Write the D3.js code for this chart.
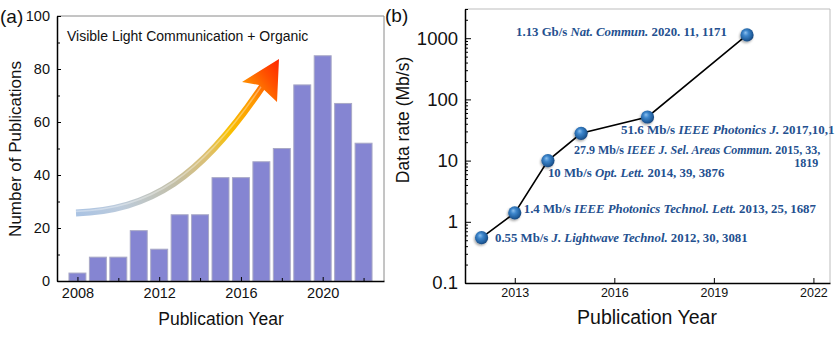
<!DOCTYPE html>
<html>
<head>
<meta charset="utf-8">
<script src="https://cdn.jsdelivr.net/npm/d3@7"></script>
<style>
  html, body { margin: 0; padding: 0; background: #fff; }
  svg { display: block; font-family: Arial, "Liberation Sans", sans-serif; }
</style>
</head>
<body>
<svg id="chart" width="840" height="340"></svg>
<script>
// ---- Panel (a): yearly publication counts ----
const pubYears  = [2008, 2009, 2010, 2011, 2012, 2013, 2014, 2015, 2016, 2017, 2018, 2019, 2020, 2021, 2022];
const pubCounts = [3, 9, 9, 19, 12, 25, 25, 39, 39, 45, 50, 74, 85, 67, 52];
const pubYTicks = [0, 20, 40, 60, 80, 100];
const pubXTicks = [2008, 2012, 2016, 2020];

// ---- Panel (b): reported data rates (Mb/s) ----
const rateYears  = [2012, 2013, 2014, 2015, 2017, 2020];
const rateValues = [0.55, 1.4, 10, 27.9, 51.6, 1130];
const rateTexts  = ["0.55 Mb/s", "1.4 Mb/s", "10 Mb/s", "27.9 Mb/s", "51.6 Mb/s", "1.13 Gb/s"];
const rateJournals = ["J. Lightwave Technol.", "IEEE Photonics Technol. Lett.", "Opt. Lett.",
                      "IEEE J. Sel. Areas Commun.", "IEEE Photonics J.", "Nat. Commun."];
const rateRefs = ["2012, 30, 3081", "2013, 25, 1687", "2014, 39, 3876", "2015, 33,", "2017,10,1", "2020. 11, 1171"];
const rateRefExtra = ["", "", "", "1819", "", ""];
const rateYTicks = [0.1, 1, 10, 100, 1000];
const rateXTicks = [2013, 2016, 2019, 2022];

const svg = d3.select("#chart");
const defs = svg.append("defs");

// =================== Panel (a) ===================
const A = { left: 57, right: 384, top: 16, bottom: 281 };
const xA = d3.scaleLinear().domain([2007, 2023]).range([A.left, A.right]);
const yA = d3.scaleLinear().domain([0, 100]).range([A.bottom, A.top]);
const gA = svg.append("g");

// frame (top / right)
gA.append("path")
  .attr("d", `M${A.left},${A.top}H${A.right}V${A.bottom}`)
  .attr("fill", "none").attr("stroke", "#8a8a8a").attr("stroke-width", 1);

// bars
const barW = xA(2007.83) - xA(2007);
gA.selectAll("rect.bar").data(pubYears).join("rect")
  .attr("class", "bar")
  .attr("x", (d) => xA(d) - barW / 2)
  .attr("width", barW)
  .attr("y", (d, i) => yA(pubCounts[i]))
  .attr("height", (d, i) => yA(0) - yA(pubCounts[i]))
  .attr("fill", "#8585d2")
  .attr("stroke", "#a9a9c6")
  .attr("stroke-width", 1);

// growth arrow
const arrowGrad = defs.append("linearGradient")
  .attr("id", "arrowGrad").attr("gradientUnits", "userSpaceOnUse")
  .attr("x1", 76).attr("y1", 213).attr("x2", 279).attr("y2", 59);
[[0, "#aac3e3"], [0.15, "#bccbdc"], [0.38, "#c3bfa7"], [0.55, "#ddc070"],
 [0.67, "#f8c000"], [0.82, "#ff9800"], [0.92, "#ff5200"], [1, "#ff2400"]]
  .forEach(([o, c]) => arrowGrad.append("stop").attr("offset", o).attr("stop-color", c));

const shaft = "M76,213 C150,210 200,180 264,84";
gA.append("path").attr("d", shaft)
  .attr("fill", "none").attr("stroke", "url(#arrowGrad)").attr("stroke-width", 7);
gA.append("path").attr("d", shaft).attr("transform", "translate(0,-1.6)")
  .attr("fill", "none").attr("stroke", "#ffffff").attr("stroke-opacity", 0.35).attr("stroke-width", 1.6);
gA.append("path")
  .attr("d", "M279,59 L242,82 L259,85 L277,102 Z")
  .attr("fill", "url(#arrowGrad)");

// axes
const axA_x = gA.append("g").attr("transform", `translate(0,${A.bottom})`)
  .call(d3.axisBottom(xA).tickValues(pubXTicks).tickFormat(d3.format("d")).tickSizeInner(-4).tickSizeOuter(0).tickPadding(7));
gA.append("g").attr("transform", `translate(0,${A.bottom})`)
  .call(d3.axisBottom(xA).tickValues([2010, 2014, 2018, 2022]).tickFormat("").tickSizeInner(-3).tickSizeOuter(0))
  .call((g) => g.select(".domain").remove());
const axA_y = gA.append("g").attr("transform", `translate(${A.left},0)`)
  .call(d3.axisLeft(yA).tickValues(pubYTicks).tickSizeInner(-4).tickSizeOuter(0).tickPadding(7));
gA.append("g").attr("transform", `translate(${A.left},0)`)
  .call(d3.axisLeft(yA).tickValues([10, 30, 50, 70, 90]).tickFormat("").tickSizeInner(-3).tickSizeOuter(0))
  .call((g) => g.select(".domain").remove());
[axA_x, axA_y].forEach((g) => {
  g.select(".domain").attr("stroke", "#000").attr("stroke-width", 1.5);
  g.selectAll("text").attr("font-size", 14.5).attr("fill", "#111").attr("font-family", "Arial, 'Liberation Sans', sans-serif");
});
gA.selectAll(".tick line").attr("stroke", "#000");

gA.append("text").attr("x", 67).attr("y", 41).attr("font-size", 14).attr("fill", "#111")
  .text("Visible Light Communication + Organic");
gA.append("text").attr("x", 221).attr("y", 325).attr("text-anchor", "middle")
  .attr("font-size", 17.5).attr("fill", "#111").text("Publication Year");
gA.append("text").attr("transform", "translate(21,149) rotate(-90)").attr("text-anchor", "middle")
  .attr("font-size", 17).attr("fill", "#111").text("Number of Publications");
gA.append("text").attr("x", 0).attr("y", 23).attr("font-size", 19).attr("fill", "#111").text("(a)");

// =================== Panel (b) ===================
const B = { left: 465, right: 830, top: 9, bottom: 283 };
const xB = d3.scaleLinear().domain([2011.5, 2022.5]).range([B.left, B.right]);
const yB = d3.scaleLog().domain([0.1, 3000]).range([B.bottom, B.top]);
const gB = svg.append("g");

gB.append("path")
  .attr("d", `M${B.left},${B.top}H${B.right}V${B.bottom}`)
  .attr("fill", "none").attr("stroke", "#bdbdbd").attr("stroke-width", 1);

const minorLog = [];
[0.1, 1, 10, 100, 1000].forEach((dec) => {
  for (let k = 2; k <= 9; k++) { const v = dec * k; if (v <= 3000) minorLog.push(v); }
});

const axB_x = gB.append("g").attr("transform", `translate(0,${B.bottom})`)
  .call(d3.axisBottom(xB).tickValues(rateXTicks).tickFormat(d3.format("d")).tickSizeInner(-5).tickSizeOuter(0).tickPadding(5));
const axB_y = gB.append("g").attr("transform", `translate(${B.left},0)`)
  .call(d3.axisLeft(yB).tickValues(rateYTicks).tickFormat((d) => d < 1 ? "0.1" : d3.format("d")(d)).tickSizeInner(-6).tickSizeOuter(0).tickPadding(7));
gB.append("g").attr("transform", `translate(${B.left},0)`)
  .call(d3.axisLeft(yB).tickValues(minorLog).tickFormat("").tickSizeInner(-3).tickSizeOuter(0))
  .call((g) => g.select(".domain").remove());
axB_x.selectAll("text").attr("font-size", 12.5);
axB_y.selectAll("text").attr("font-size", 18.5);
[axB_x, axB_y].forEach((g) => {
  g.select(".domain").attr("stroke", "#000").attr("stroke-width", 1.5);
  g.selectAll("text").attr("fill", "#111").attr("font-family", "Arial, 'Liberation Sans', sans-serif");
});
gB.selectAll(".tick line").attr("stroke", "#000");

// connecting line
const line = d3.line().x((d, i) => xB(rateYears[i])).y((d) => yB(d));
gB.append("path").datum(rateValues).attr("d", line)
  .attr("fill", "none").attr("stroke", "#000").attr("stroke-width", 1.6);

// shaded sphere markers
const ballGrad = defs.append("radialGradient").attr("id", "ball")
  .attr("cx", "45%").attr("cy", "45%").attr("r", "60%").attr("fx", "38%").attr("fy", "32%");
[[0, "#8cc0ee"], [0.35, "#3d86cc"], [0.75, "#22609f"], [1, "#173f72"]]
  .forEach(([o, c]) => ballGrad.append("stop").attr("offset", o).attr("stop-color", c));
const shadow = defs.append("filter").attr("id", "ballShadow")
  .attr("x", "-50%").attr("y", "-50%").attr("width", "200%").attr("height", "200%");
shadow.append("feDropShadow").attr("dx", -1).attr("dy", 1.5).attr("stdDeviation", 1.2)
  .attr("flood-color", "#000").attr("flood-opacity", 0.35);

gB.selectAll("circle.pt").data(rateValues).join("circle")
  .attr("class", "pt")
  .attr("cx", (d, i) => xB(rateYears[i]))
  .attr("cy", (d) => yB(d))
  .attr("r", 6.6)
  .attr("fill", "url(#ball)")
  .attr("filter", "url(#ballShadow)");

// reference annotations, placed relative to each marker
const labelOffsets = [[13.4, 4.5], [9, 0.3], [0, 16.4], [-7.2, 20.7], [-26.5, 17], [-231, 1]];
const labelSizes = [12.8, 12.8, 12.8, 12, 13, 12.8];
const annG = gB.append("g")
  .attr("font-family", "'Liberation Serif', 'Times New Roman', serif")
  .attr("font-weight", "bold").attr("fill", "#24508f");
rateValues.forEach((v, i) => {
  const px = xB(rateYears[i]) + labelOffsets[i][0];
  const py = yB(v) + labelOffsets[i][1];
  const t = annG.append("text").attr("x", px).attr("y", py).attr("font-size", labelSizes[i]);
  t.append("tspan").text(rateTexts[i] + " ");
  t.append("tspan").attr("font-style", "italic").text(rateJournals[i]);
  t.append("tspan").text(" " + rateRefs[i]);
  if (rateRefExtra[i]) {
    const end = px + t.node().getComputedTextLength() - 2;
    annG.append("text").attr("x", end).attr("y", py + 13).attr("font-size", labelSizes[i])
      .attr("text-anchor", "end").text(rateRefExtra[i]);
  }
});

gB.append("text").attr("x", 647).attr("y", 324).attr("text-anchor", "middle")
  .attr("font-size", 19.5).attr("fill", "#111").text("Publication Year");
gB.append("text").attr("transform", "translate(409,120) rotate(-90)").attr("text-anchor", "middle")
  .attr("font-size", 17.5).attr("fill", "#111").text("Data rate (Mb/s)");
gB.append("text").attr("x", 385).attr("y", 22).attr("font-size", 19).attr("fill", "#111").text("(b)");
</script>
</body>
</html>
